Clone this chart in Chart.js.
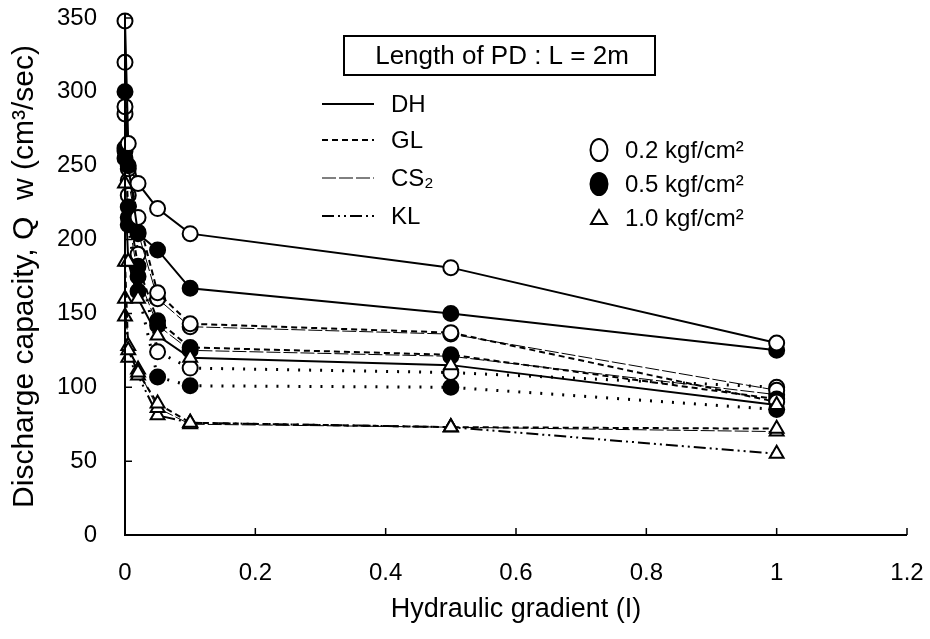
<!DOCTYPE html>
<html>
<head>
<meta charset="utf-8">
<script src="https://cdn.jsdelivr.net/npm/chart.js@4/dist/chart.umd.min.js"></script>
<style>
  html, body { margin: 0; padding: 0; background: #fff; }
  #wrap { width: 930px; height: 639px; }
</style>
</head>
<body>
<div id="wrap"><canvas id="c" width="930" height="639"></canvas></div>
<script>
// ---- data ----
const xValues = [0, 0.005, 0.02, 0.05, 0.1, 0.5, 1.0];
const xTickLabels = ['0', '0.2', '0.4', '0.6', '0.8', '1', '1.2'];
const materials = ['DH', 'GL', 'CS\u2082', 'KL'];
const pressures = ['0.2 kgf/cm\u00B2', '0.5 kgf/cm\u00B2', '1.0 kgf/cm\u00B2'];

const dh02 = [348, 265, 238, 221, 204, 181, 130];
const dh05 = [300, 250, 204, 193, 167, 150, 125];
const dh10 = [238, 185, 160, 135, 120, 115, 88];
const gl02 = [320, 248, 215, 164, 143, 137, 90];
const gl05 = [260, 222, 182, 145, 127, 122, 92];
const gl10 = [185, 125, 110, 89, 76, 73, 72];
const cs02 = [290, 240, 205, 160, 141, 136, 98];
const cs05 = [255, 215, 175, 142, 125, 121, 95];
const cs10 = [160, 128, 112, 86, 75, 73, 70];
const kl02 = [285, 230, 190, 124, 113, 110, 100];
const kl05 = [262, 210, 165, 107, 101, 100, 85];
const kl10 = [148, 120, 108, 81, 76, 73, 55];

// ---- styles ----
const lineStyles = {
  'DH':  { dash: [], width: 2 },
  'GL':  { dash: [6, 4], width: 2 },
  'CS\u2082': { dash: [14, 3], width: 1 },
  'KL':  { dash: [12, 4, 2, 4, 2, 4], width: 2 }
};
const markerStyles = [
  { style: 'circle', radius: 7.5, bg: '#fff' },
  { style: 'circle', radius: 7.5, bg: '#000' },
  { style: 'triangle', radius: 8, bg: '#fff' }
];

const seriesTable = [
  ['DH', 0, dh02], ['DH', 1, dh05], ['DH', 2, dh10],
  ['GL', 0, gl02], ['GL', 1, gl05], ['GL', 2, gl10],
  ['CS\u2082', 0, cs02], ['CS\u2082', 1, cs05], ['CS\u2082', 2, cs10],
  ['KL', 0, kl02], ['KL', 1, kl05], ['KL', 2, kl10]
];
// KL 0.2/0.5 appear dotted in the figure
const dottedOverride = { 'KL0': [2, 9], 'KL1': [2, 9] };

const datasets = seriesTable.map(([mat, p, vals]) => {
  const ls = lineStyles[mat];
  const ms = markerStyles[p];
  const dash = dottedOverride[mat + p] || ls.dash;
  return {
    label: mat + ' ' + pressures[p],
    data: xValues.map((x, i) => ({ x: x, y: vals[i] })),
    borderColor: '#000',
    borderWidth: dottedOverride[mat + p] ? 3 : ls.width,
    borderDash: dash,
    pointStyle: ms.style,
    pointRadius: ms.radius,
    pointBackgroundColor: ms.bg,
    pointBorderColor: '#000',
    pointBorderWidth: 2,
    tension: 0,
    fill: false,
    clip: false
  };
});

const FONT = 'Liberation Sans, Arial, sans-serif';

const decor = {
  id: 'decor',
  afterDraw(chart) {
    const ctx = chart.ctx;
    const xs = chart.scales.x, ys = chart.scales.y;
    const ca = chart.chartArea;
    ctx.save();
    // axes
    ctx.strokeStyle = '#000';
    ctx.lineWidth = 2;
    ctx.setLineDash([]);
    ctx.beginPath();
    ctx.moveTo(ca.left, ca.top - 4);
    ctx.lineTo(ca.left, ca.bottom);
    ctx.lineTo(ca.right, ca.bottom);
    ctx.stroke();
    // inner ticks
    ctx.lineWidth = 1.5;
    ctx.beginPath();
    for (let v = 0.2; v <= 1.21; v += 0.2) {
      const px = xs.getPixelForValue(v);
      ctx.moveTo(px, ca.bottom);
      ctx.lineTo(px, ca.bottom - 7);
    }
    for (let v = 50; v <= 350; v += 50) {
      const py = ys.getPixelForValue(v);
      ctx.moveTo(ca.left, py);
      ctx.lineTo(ca.left + 7, py);
    }
    ctx.stroke();

    // title box
    ctx.fillStyle = '#000';
    ctx.textBaseline = 'middle';
    ctx.lineWidth = 2;
    ctx.strokeRect(344, 36, 311, 39);
    ctx.textAlign = 'center';
    ctx.font = '26px ' + FONT;
    ctx.fillText('Length of PD : L = 2m', 502, 57);

    // line legend
    ctx.font = '24px ' + FONT;
    ctx.textAlign = 'left';
    const ly = [104, 140, 178, 216];
    materials.forEach((m, i) => {
      const ls = lineStyles[m];
      ctx.beginPath();
      ctx.setLineDash(ls.dash);
      ctx.lineWidth = ls.width;
      ctx.moveTo(322, ly[i]);
      ctx.lineTo(374, ly[i]);
      ctx.stroke();
      ctx.setLineDash([]);
      ctx.fillText(m, 391, ly[i] + 1);
    });

    // marker legend
    const my = [150, 184, 218];
    pressures.forEach((p, i) => {
      const ms = markerStyles[i];
      ctx.lineWidth = 2;
      ctx.fillStyle = ms.bg;
      ctx.beginPath();
      if (ms.style === 'circle') {
        ctx.ellipse(599, my[i], 8.5, 11, 0, 0, Math.PI * 2);
      } else {
        ctx.moveTo(599, my[i] - 8);
        ctx.lineTo(607, my[i] + 6);
        ctx.lineTo(591, my[i] + 6);
        ctx.closePath();
      }
      ctx.fill();
      ctx.stroke();
      ctx.fillStyle = '#000';
      ctx.fillText(p, 625, my[i] + 1);
    });
    ctx.restore();
  }
};

new Chart(document.getElementById('c'), {
  type: 'line',
  data: { datasets: datasets },
  options: {
    responsive: false,
    animation: false,
    layout: { padding: { top: 18, right: 23, left: 0, bottom: 0 } },
    plugins: { legend: { display: false }, tooltip: { enabled: false } },
    scales: {
      x: {
        type: 'linear',
        min: 0, max: 1.2,
        border: { display: false },
        grid: { display: false, drawTicks: false },
        ticks: {
          stepSize: 0.2,
          color: '#000',
          font: { family: FONT, size: 24 },
          padding: 24,
          maxRotation: 0,
          callback: (v, i) => xTickLabels[i]
        },
        title: {
          display: true,
          text: 'Hydraulic gradient (I)',
          color: '#000',
          font: { family: FONT, size: 27 },
          padding: { top: 6, bottom: 13 }
        },
        afterFit: (s) => { s.height = 104; s.paddingLeft = 0; s.paddingRight = 0; }
      },
      y: {
        type: 'linear',
        min: 0, max: 350,
        border: { display: false },
        grid: { display: false, drawTicks: false },
        ticks: {
          stepSize: 50,
          color: '#000',
          font: { family: FONT, size: 24 },
          padding: 28
        },
        title: {
          display: true,
          text: 'Discharge capacity, Q  w (cm\u00B3/sec)',
          color: '#000',
          font: { family: FONT, size: 30 },
          padding: { top: 7, bottom: 7 }
        },
        afterFit: (s) => { s.width = 125; s.paddingTop = 0; s.paddingBottom = 0; }
      }
    }
  },
  plugins: [decor]
});
</script>
</body>
</html>
